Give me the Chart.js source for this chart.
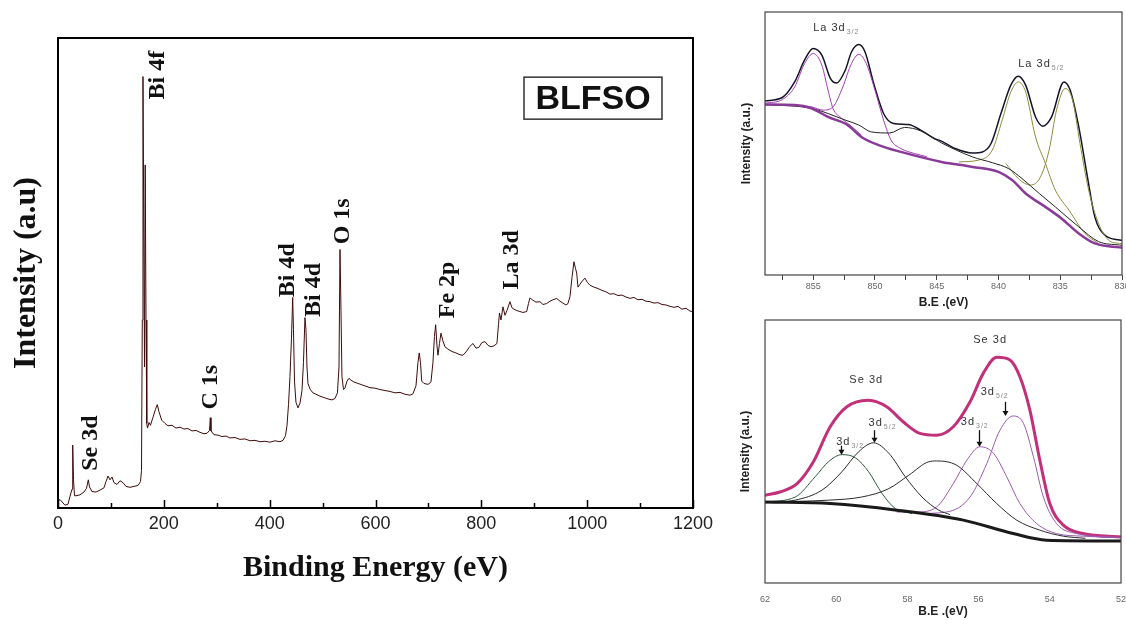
<!DOCTYPE html>
<html>
<head>
<meta charset="utf-8">
<script src="https://cdn.jsdelivr.net/npm/chart.js@4.4.1/dist/chart.umd.min.js"></script>
<style>
  html, body { margin: 0; padding: 0; background: #fff; }
  #wrap { position: relative; width: 1126px; height: 620px; overflow: hidden; }
  canvas { position: absolute; }
  #survey { left: 0; top: 0; }
  #la { left: 730px; top: 0; }
  #se { left: 730px; top: 310px; }
</style>
</head>
<body>
<div id="wrap">
  <canvas id="survey" width="720" height="620"></canvas>
  <canvas id="la" width="396" height="320"></canvas>
  <canvas id="se" width="396" height="310"></canvas>
</div>
<script>
// === DATA ===
// survey spectrum (binding energy in eV, intensity in arbitrary units 0-100)
const surveyBE = [0, 3.8, 13.2, 18.9, 22.7, 26.5, 27.8, 29.3, 31.2, 34, 41.6, 49.1, 53.9, 57.3, 59.5, 64.2, 71.8, 79.4, 86.9, 90.7,
  94.5, 98.3, 102, 105.8, 111.5, 117.2, 122.8, 128.5, 136, 143.6, 151.2, 155.9, 157.8, 159.3, 160.6, 162.1, 163.5, 164.8, 166.3, 167.8,
  169.1, 172, 174.8, 179.5, 184.2, 187.6, 190.8, 195.9, 202.1, 207.8, 215.4, 223, 230.5, 238.1, 245.6, 253.2, 260.8, 268.3, 275.9, 281.6,
  286.3, 287.8, 289.1, 294.8, 302.3, 309.9, 317.5, 325, 334.5, 343.9, 353.4, 362.8, 372.3, 381.7, 391.1, 400.6, 410, 419.5, 425.2, 429.9,
  432.7, 435.6, 438.4, 441.2, 443.5, 445, 446.9, 449.7, 453.5, 457.3, 461.1, 463.9, 466.7, 468.6, 470.5, 472.4, 476.2, 481.8, 487.5, 495.1,
  502.6, 510.2, 517.7, 523.4, 528.1, 531, 532.9, 534.8, 536.6, 539.5, 542.3, 546.1, 549.9, 553.7, 559.3, 566.9, 574.4, 582, 589.6, 599,
  608.5, 617.9, 627.4, 636.8, 646.3, 655.7, 665.1, 670.8, 676.5, 680.3, 682.7, 685, 687.3, 691.6, 699.2, 704.8, 708.6, 711.4, 713.7, 716.2,
  718, 720.9, 723.7, 727.5, 731.3, 736.9, 744.5, 752, 759.6, 765.3, 771, 778.5, 784.2, 789.9, 795.5, 801.2, 806.9, 812.5, 818.2, 823.9,
  829.5, 832.4, 834.3, 837.1, 840.9, 844.7, 848.4, 854.1, 857.9, 861.7, 867.3, 873, 878.7, 885.7, 889.1, 891.9, 897.6, 903.2, 910.8, 916.5,
  923.4, 929.7, 935.4, 942.3, 948.6, 954.2, 959.9, 963.7, 967.5, 971.3, 975, 977.9, 980.2, 982.6, 986.4, 990.2, 995.8, 1000.5, 1005.3, 1012.8,
  1020.4, 1027.9, 1035.5, 1043.1, 1050.6, 1058.2, 1065.7, 1073.3, 1080.9, 1088.4, 1096, 1103.6, 1111.1, 1118.7, 1126.3, 1133.8, 1141.4, 1148.9, 1156.5, 1164.1,
  1171.6, 1179.2, 1186.8, 1194.3, 1200];
const surveyCounts = [1.5, 1.8, 0.6, 0.8, 2.5, 4, 13.4, 6, 2.6, 2.6, 2.8, 3.4, 4.2, 6.0, 4.5, 3.5, 3.4, 3.8, 4.3, 5.6,
  6.8, 6.0, 6.6, 5.4, 5.0, 5.8, 5.4, 4.6, 4.4, 4.6, 4.8, 5.6, 8, 40, 91.8, 60, 30, 73, 40, 18,
  17.0, 18.2, 17.6, 19.3, 21.0, 22.0, 20.5, 18.7, 18.0, 17.5, 17.6, 17.0, 17.2, 16.8, 16.9, 16.4, 16.5, 16.1, 15.8, 15.9,
  16.5, 19.2, 16.4, 15.6, 15.5, 15.2, 15.3, 14.9, 15.0, 14.6, 14.7, 14.3, 14.4, 14.1, 14.2, 14.0, 14.3, 14.1, 14.4, 15.4,
  17.5, 22, 28, 36, 44.8, 38, 27, 22.5, 21.3, 22.3, 25, 31, 40.5, 38, 30, 26.5, 25.3, 24.5, 24.2, 23.8,
  23.5, 23.2, 23.0, 23.3, 24.5, 30, 55, 42, 28, 25.2, 25.5, 27, 27.6, 27.2, 26.8, 26.5, 26.2, 25.9, 25.6, 25.5,
  25.2, 25.0, 24.8, 24.5, 24.6, 24.2, 24.0, 24.3, 26, 31, 33.0, 31, 27.0, 26.5, 26.3, 26.8, 31, 36.5, 39.0, 34.5,
  32.5, 35, 37.2, 35.5, 34.3, 33.8, 33.3, 33.0, 32.6, 32.5, 33.2, 34.4, 35.0, 34.0, 34.2, 35.2, 35.4, 34.6, 34.3, 34.5,
  35.0, 39, 41.5, 40.0, 42.8, 41.0, 42.0, 43.9, 42.6, 42.3, 42.0, 41.8, 41.6, 41.8, 43.5, 44.7, 44.2, 43.8, 43.9, 43.3,
  43.5, 44.0, 44.3, 44.6, 44.0, 43.6, 43.2, 43.5, 45, 49, 52.4, 51, 50, 47, 47.6, 48.2, 48.9, 48.0, 47.4, 47.0,
  46.7, 46.3, 46.0, 45.5, 45.6, 45.2, 45.3, 44.9, 44.6, 44.8, 44.3, 44.4, 44.0, 43.9, 43.6, 43.7, 43.3, 43.2, 42.9, 42.7,
  42.9, 42.3, 42.5, 41.9, 41.8];
const surveyTicks = [0, 200, 400, 600, 800, 1000, 1200];

// La 3d high resolution
const laEnvBE = [858.9, 857.5, 856.5, 855.7, 855, 854.3, 853.6, 853.1, 852.4, 851.9, 851.3, 850.8, 850.1, 849.3, 848.5, 847.3, 846.3, 845.2, 844.8, 843.5,
  842.1, 841.3, 840.6, 839.8, 839, 838.4, 837.8, 837, 836.4, 835.7, 834.7, 834.2, 833.5, 832.8, 832.2, 831.4, 830.2, 830];
const laEnv = [66.2, 67.5, 73.4, 81.7, 86.1, 83.6, 74.7, 73, 77.9, 84.8, 87.6, 84.8, 72.8, 61.4, 57.6, 57.2, 55.1, 51.9, 51.3, 48.1,
  46.4, 46.8, 50, 61.4, 72.2, 75.6, 72.2, 60.1, 56.6, 60.1, 73.4, 70.3, 56.3, 37.3, 22.1, 15.2, 13.3, 13.2];
const la855BE = [858.9, 857.5, 856.5, 855.7, 855, 854.3, 853.8, 853.4, 852.7, 851.9, 851.1];
const la855 = [65.3, 66.7, 71.5, 80.4, 84.2, 79.8, 70.3, 63.4, 59.6, 56.5, 53.2];
const la851BE = [856.5, 855.1, 854.2, 853.4, 852.6, 851.9, 851.3, 850.7, 850, 849.3, 848.7, 847.9, 846.8, 845.8];
const la851 = [64.6, 63.9, 62.7, 63.9, 71.5, 80.4, 83.9, 80.4, 70.3, 58.9, 51.3, 48.1, 46.2, 45.0];
const la838BE = [843.2, 841.6, 840.5, 839.7, 839, 838.4, 837.8, 837, 836.2, 835.4, 834.3, 833, 831.9];
const la838 = [43, 43.7, 47.5, 58.9, 69.6, 73.4, 69.6, 52.5, 42.4, 32.3, 24.7, 15.8, 12];
const la834BE = [839.4, 838.4, 837.4, 836.6, 835.9, 835.3, 834.6, 834, 833.4, 832.7, 831.9, 831.1, 830.2, 830];
const la834 = [42.4, 36.7, 34.2, 37.3, 47.5, 62.7, 70.9, 66.5, 50, 32.3, 19.6, 13.3, 12, 11.9];
const laBgBE = [858.9, 856.5, 855.1, 853.8, 852.2, 851.1, 849.7, 847.9, 844.6, 842.1, 840, 838.9, 837.8, 836.2, 834.9, 833.5, 832.2, 830.2, 830];
const laBg = [64.8, 64.6, 63.3, 60.1, 57, 52.5, 49.4, 46.8, 43, 41.1, 39.2, 36.1, 31, 25.9, 21.5, 15.8, 12, 10.5, 10.4];
const laShirleyBE = [858.9, 855.1, 852.4, 851.3, 850.3, 848.8, 847.6, 846.3, 844.6, 842.1, 840.5, 839.2, 838.1, 836.7, 835.4, 833.5, 831.9, 830.2, 830];
const laShirley = [64.8, 63.3, 58.9, 57, 54.4, 54, 56.1, 54.8, 50.2, 44.9, 42.7, 40.5, 36.7, 31, 25.9, 18.3, 12.7, 11.4, 11.3];
const laTicks = [857.5, 855, 852.5, 850, 847.5, 845, 842.5, 840, 837.5, 835, 832.5, 830];

// Se 3d high resolution
const seEnvBE = [62, 61.58, 61.1, 60.64, 60.17, 59.7, 59.1, 58.58, 58.12, 57.65, 57.18, 56.71, 56.24, 55.87, 55.49, 55.12, 54.84, 54.56, 54.28, 54, 53.62, 53.06, 52];
const seEnv = [33.4, 34.6, 37.8, 46.1, 59.4, 67, 69.5, 67, 61.3, 56.9, 56.2, 59.4, 68.9, 79.7, 85.8, 84.8, 78.4, 65.7, 46.7, 30.2, 22, 18.8, 17.5];
const seBgBE = [62, 60.17, 58.3, 56.43, 55.03, 54.09, 52];
const seBg = [30.8, 30.2, 27.7, 23.9, 18.8, 16.3, 16];
const seC1BE = [62, 61.15, 60.59, 60.21, 59.84, 59.46, 59.09, 58.71, 58.34, 57.87];
const seC1 = [30.8, 32.7, 40.4, 46.2, 48.8, 47.6, 42.3, 34, 28.3, 26.4];
const seC2BE = [62, 61.15, 60.4, 59.84, 59.37, 58.95, 58.52, 58.06, 57.59, 57.12, 56.8];
const seC2 = [30.5, 31.5, 35.3, 42.3, 49.9, 53.3, 49.3, 40.4, 32.7, 27.7, 26];
const seC3BE = [62, 60.21, 59.28, 58.52, 57.96, 57.4, 57.18, 56.62, 56.05, 55.49, 54.93, 54.28, 53.62, 53];
const seC3 = [30.8, 31.5, 32.7, 35.9, 41, 46.1, 46.4, 44.8, 37.8, 30.2, 23.9, 20.1, 17.8, 17];
const seC4BE = [58.3, 57.74, 57.18, 56.71, 56.33, 55.96, 55.58, 55.21, 54.84, 54.37, 53.81, 53.06, 52];
const seC4 = [27, 27, 28.9, 37.8, 46.7, 51.8, 49.3, 40.4, 30.2, 22.6, 18.8, 17.8, 17.2];
const seC5BE = [57.74, 56.9, 56.24, 55.77, 55.4, 55.03, 54.74, 54.46, 54.18, 53.81, 53.25, 52];
const seC5 = [26.4, 27, 32.7, 45.4, 58.1, 63.5, 60.7, 48, 32.7, 22.6, 18.8, 17.3];
const seTicks = [62, 60, 58, 56, 54, 52];

// === STYLE / ANNOTATIONS ===
const SERIF = "'Liberation Serif', 'Times New Roman', serif";
const SANS = "'Liberation Sans', Arial, Helvetica, sans-serif";

const surveyNotes = [
  { text: 'Se 3d', be: 62, y: 13.8 },
  { text: 'Bi 4f', be: 189, y: 92.1 },
  { text: 'C 1s', be: 289, y: 25.7 },
  { text: 'Bi 4d', be: 435, y: 50.6 },
  { text: 'Bi 4d', be: 484, y: 46.4 },
  { text: 'O 1s', be: 538, y: 61 },
  { text: 'Fe 2p', be: 737, y: 46.4 },
  { text: 'La 3d', be: 858, y: 52.8 }
];
const laNotes = [
  { main: 'La 3d', sub: '3/2', be: 855.0, y: 93.9 },
  { main: 'La 3d', sub: '5/2', be: 838.4, y: 80.2 }
];
const seNotes = [
  { main: 'Se 3d', sub: '', be: 59.63, y: 77.2 },
  { main: 'Se 3d', sub: '', be: 56.15, y: 92.4 },
  { main: '3d', sub: '3/2', be: 60.0, y: 53.7, arrow: [59.87, 52.2, 48.8] },
  { main: '3d', sub: '5/2', be: 59.09, y: 60.7, arrow: [58.95, 58.1, 53.3] },
  { main: '3d', sub: '3/2', be: 56.5, y: 61.3, arrow: [56.0, 58.1, 51.8] },
  { main: '3d', sub: '5/2', be: 55.94, y: 72.7, arrow: [55.26, 68.9, 63.5] }
];

function pts(xs, ys) {
  return xs.map((x, i) => ({ x: x, y: ys[i] }));
}

function line(xs, ys, color, width) {
  return { data: pts(xs, ys), borderColor: color, borderWidth: width, pointRadius: 0, fill: false };
}

// keep the plot area where we put it, even when the end labels stick out
function fixBox(s, h) {
  s.height = h;
  s.paddingLeft = 0;
  s.paddingRight = 0;
}

// === SURVEY ===
const surveyDecor = {
  id: 'surveyDecor',
  afterDraw(chart) {
    const { ctx, chartArea: a, scales: { x, y } } = chart;
    ctx.save();
    ctx.strokeStyle = '#000';
    ctx.lineWidth = 2;
    ctx.strokeRect(a.left, a.top, a.right - a.left, a.bottom - a.top);

    // inward tick marks
    ctx.lineWidth = 1.5;
    for (let v = 0; v <= 1200; v += 100) {
      const px = Math.round(x.getPixelForValue(v)) + 0.5;
      const len = v % 200 === 0 ? 8 : 5;
      ctx.beginPath();
      ctx.moveTo(px, a.bottom);
      ctx.lineTo(px, a.bottom - len);
      ctx.stroke();
    }

    // peak labels
    ctx.fillStyle = '#111';
    ctx.font = 'bold 24px ' + SERIF;
    ctx.textAlign = 'center';
    ctx.textBaseline = 'middle';
    surveyNotes.forEach(n => {
      ctx.save();
      ctx.translate(x.getPixelForValue(n.be), y.getPixelForValue(n.y));
      ctx.rotate(-Math.PI / 2);
      ctx.fillText(n.text, 0, 0);
      ctx.restore();
    });

    // sample name box
    const cx = x.getPixelForValue(1011), cy = y.getPixelForValue(87.2);
    ctx.lineWidth = 1.5;
    ctx.strokeStyle = '#333';
    ctx.strokeRect(cx - 69, cy - 21, 138, 42);
    ctx.font = 'bold 34px ' + SANS;
    ctx.fillText('BLFSO', cx, cy + 1);
    ctx.restore();
  }
};

new Chart(document.getElementById('survey'), {
  type: 'line',
  data: { datasets: [line(surveyBE, surveyCounts, '#3e0b0b', 1)] },
  options: {
    responsive: false,
    animation: false,
    events: [],
    layout: { padding: { top: 38, right: 27, left: 0, bottom: 0 } },
    elements: { line: { tension: 0 } },
    plugins: { legend: { display: false }, tooltip: { enabled: false } },
    scales: {
      x: {
        type: 'linear', min: 0, max: 1200,
        afterFit: s => fixBox(s, 112),
        afterBuildTicks: s => { s.ticks = surveyTicks.map(v => ({ value: v })); },
        grid: { display: false, drawTicks: false },
        border: { display: false },
        ticks: { font: { family: SANS, size: 18 }, color: '#222', padding: 5, maxRotation: 0, autoSkip: false,
          callback: v => String(v) },
        title: { display: true, text: 'Binding Energy (eV)', color: '#111',
          font: { family: SERIF, size: 30, weight: 'bold' }, padding: { top: 0, bottom: 34 } }
      },
      y: {
        min: 0, max: 100,
        afterFit: s => { s.width = 58; },
        ticks: { display: false },
        grid: { display: false, drawTicks: false },
        border: { display: false },
        title: { display: true, text: 'Intensity (a.u)', color: '#111',
          font: { family: SERIF, size: 32, weight: 'bold' }, padding: { top: 8, bottom: 0 } }
      }
    }
  },
  plugins: [surveyDecor]
});

// === HIGH RESOLUTION PANELS ===
function drawNote(ctx, px, py, n) {
  ctx.textAlign = 'left';
  ctx.textBaseline = 'middle';
  ctx.fillStyle = '#333';
  ctx.font = '11px ' + SANS;
  if ('letterSpacing' in ctx) ctx.letterSpacing = '1px';
  ctx.fillText(n.main, px, py);
  const w = ctx.measureText(n.main).width;
  if (n.sub) {
    ctx.font = '7px ' + SANS;
    ctx.fillStyle = '#888';
    ctx.fillText(n.sub, px + w + 1, py + 4);
  }
  if ('letterSpacing' in ctx) ctx.letterSpacing = '0px';
}

function panelDecor(notes) {
  return {
    id: 'panelDecor',
    afterDraw(chart) {
      const { ctx, chartArea: a, scales: { x, y } } = chart;
      ctx.save();
      ctx.strokeStyle = '#444';
      ctx.lineWidth = 1.2;
      ctx.strokeRect(a.left, a.top, a.right - a.left, a.bottom - a.top);
      notes.forEach(n => {
        drawNote(ctx, x.getPixelForValue(n.be), y.getPixelForValue(n.y), n);
        if (n.arrow) {
          const ax = Math.round(x.getPixelForValue(n.arrow[0])) + 0.5;
          const y1 = y.getPixelForValue(n.arrow[1]);
          const y2 = y.getPixelForValue(n.arrow[2]);
          ctx.strokeStyle = '#111';
          ctx.fillStyle = '#111';
          ctx.lineWidth = 1.3;
          ctx.beginPath();
          ctx.moveTo(ax, y1);
          ctx.lineTo(ax, y2 - 4);
          ctx.stroke();
          ctx.beginPath();
          ctx.moveTo(ax - 3, y2 - 5);
          ctx.lineTo(ax + 3, y2 - 5);
          ctx.lineTo(ax, y2);
          ctx.closePath();
          ctx.fill();
        }
      });
      ctx.restore();
    }
  };
}

function panelOptions(cfg) {
  return {
    responsive: false,
    animation: false,
    events: [],
    layout: { padding: cfg.padding },
    elements: { line: { cubicInterpolationMode: 'monotone' } },
    plugins: { legend: { display: false }, tooltip: { enabled: false } },
    scales: {
      x: {
        type: 'linear', reverse: true, min: cfg.xMin, max: cfg.xMax,
        afterFit: s => fixBox(s, cfg.xHeight),
        afterBuildTicks: s => { s.ticks = cfg.ticks.map(v => ({ value: v })); },
        grid: { display: cfg.tickMarks, drawOnChartArea: false, drawTicks: cfg.tickMarks, tickLength: 5, color: '#444', lineWidth: 1 },
        border: { display: false },
        ticks: {
          font: { family: SANS, size: 9 }, color: '#666', padding: cfg.tickPad, maxRotation: 0, autoSkip: false,
          callback: cfg.tickLabel
        },
        title: { display: true, text: 'B.E .(eV)', color: '#222',
          font: { family: SANS, size: 12, weight: 'bold' }, padding: { top: 0, bottom: cfg.titlePad } }
      },
      y: {
        min: 0, max: 100,
        afterFit: s => { s.width = 35; },
        ticks: { display: false },
        grid: { display: false, drawTicks: false },
        border: { display: false },
        title: { display: true, text: 'Intensity (a.u.)', color: '#222',
          font: { family: SANS, size: 12, weight: 'bold' }, padding: { top: cfg.yTitlePad, bottom: 0 } }
      }
    }
  };
}

new Chart(document.getElementById('la'), {
  type: 'line',
  data: {
    datasets: [
      line(laBgBE, laBg, '#8a3a98', 2.5),
      line(laBgBE, laBg, '#9a9a4a', 0.8),
      line(laShirleyBE, laShirley, '#222', 1),
      line(la838BE, la838, '#8d8d3e', 1),
      line(la834BE, la834, '#8d8d3e', 1),
      line(la855BE, la855, '#a03cb0', 1),
      line(la851BE, la851, '#a03cb0', 1),
      line(laEnvBE, laEnv, '#141428', 1.5)
    ]
  },
  options: panelOptions({
    padding: { top: 12, right: 4, left: 0, bottom: 0 },
    xMin: 830, xMax: 858.9, xHeight: 45, ticks: laTicks, tickMarks: true, tickPad: 1,
    tickLabel: v => (v % 5 === 0 ? String(v) : ''),
    titlePad: 10, yTitlePad: 9
  }),
  plugins: [panelDecor(laNotes)]
});

new Chart(document.getElementById('se'), {
  type: 'line',
  data: {
    datasets: [
      line(seBgBE, seBg, '#1a1a1a', 3),
      line(seBgBE, seBg, '#3c8a3c', 0.8),
      line(seC1BE, seC1, '#2c5a3a', 1),
      line(seC2BE, seC2, '#2a2a2a', 1),
      line(seC3BE, seC3, '#2a2a2a', 1),
      line(seC4BE, seC4, '#9a5aac', 1),
      line(seC5BE, seC5, '#9a5aac', 1),
      line(seEnvBE, seEnv, '#c2307a', 3)
    ]
  },
  options: panelOptions({
    padding: { top: 10, right: 5, left: 0, bottom: 0 },
    xMin: 52, xMax: 62, xHeight: 37, ticks: seTicks, tickMarks: false, tickPad: 11,
    tickLabel: v => String(v),
    titlePad: 1, yTitlePad: 8
  }),
  plugins: [panelDecor(seNotes)]
});
</script>
</body>
</html>
